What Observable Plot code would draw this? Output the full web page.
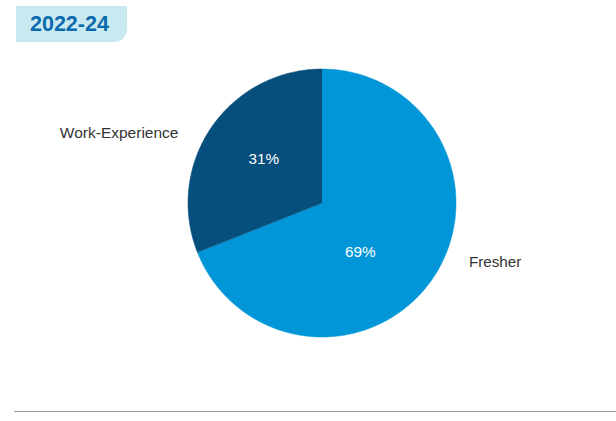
<!DOCTYPE html>
<html>
<head>
<meta charset="utf-8">
<script src="https://cdn.jsdelivr.net/npm/d3@7"></script>
<script src="https://cdn.jsdelivr.net/npm/@observablehq/plot@0.6"></script>
<style>
  html, body { margin: 0; padding: 0; background: #fff; }
  #wrap { position: relative; width: 616px; height: 421px; overflow: hidden; font-family: "Liberation Sans", Arial, sans-serif; }
  #title { position: absolute; left: 16px; top: 6px; width: 97px; height: 36px; padding-left: 14px;
           background: #c9e9f1; border-bottom-right-radius: 13px; color: #0b69ad;
           font-weight: bold; font-size: 21.5px; line-height: 36px; }
  #rule { position: absolute; left: 14px; right: 0; top: 411px; height: 0; border-top: 1.5px solid #9a9a9a; }
  #chart { position: absolute; left: 0; top: 0; }
</style>
</head>
<body>
<div id="wrap">
  <div id="chart"></div>
  <div id="title">2022-24</div>
  <div id="rule"></div>
</div>
<script>
// ---- data ----
const categories = ["Fresher", "Work-Experience"];
const shares = [69, 31];
const sliceColors = ["#0096d7", "#064e7c"];

// ---- layout (pixels) ----
const W = 616, H = 421;
const cx = 321.5, cy = 202.5, R = 134;
// label placement: radius (in pie radii) and angle shift (deg) from slice mid-angle
const innerLayout = { "Fresher": { r: 0.464, shift: 17.9 }, "Work-Experience": { r: 0.542, shift: 2.7 } };
const outerLayout = { "Fresher": { r: 1.182, shift: -12.3 }, "Work-Experience": { r: 1.191, shift: -8.3 } };

const table = categories.map((c, i) => ({ name: c, value: shares[i], color: sliceColors[i] }));
const total = d3.sum(shares);
const arcs = d3.pie().sort(null).value(d => d.value).startAngle(0).endAngle(2 * Math.PI)(table);

// polygon outline of each slice (unit circle, y up)
const outline = [];
for (const a of arcs) {
  outline.push({ name: a.data.name, x: 0, y: 0 });
  const n = Math.max(2, Math.ceil((a.endAngle - a.startAngle) / (Math.PI / 360)));
  for (let k = 0; k <= n; k++) {
    const t = a.startAngle + (a.endAngle - a.startAngle) * k / n;
    outline.push({ name: a.data.name, x: Math.sin(t), y: Math.cos(t) });
  }
}

const rad = Math.PI / 180;
const inner = arcs.map(a => {
  const L = innerLayout[a.data.name];
  const t = (a.startAngle + a.endAngle) / 2 + L.shift * rad;
  return { name: a.data.name, text: Math.round(a.data.value / total * 100) + "%", x: L.r * Math.sin(t), y: L.r * Math.cos(t) };
});
const outer = arcs.map(a => {
  const L = outerLayout[a.data.name];
  const t = (a.startAngle + a.endAngle) / 2 + L.shift * rad;
  const x = L.r * Math.sin(t);
  return { name: a.data.name, x, y: L.r * Math.cos(t), anchor: x < 0 ? "end" : "start" };
});

const chart = Plot.plot({
  width: W, height: H,
  margin: 0,
  style: { fontFamily: "'Liberation Sans', Arial, sans-serif", background: "transparent" },
  x: { domain: [-cx / R, (W - cx) / R], axis: null },
  y: { domain: [(cy - H) / R, cy / R], axis: null },
  color: { domain: categories, range: sliceColors },
  marks: [
    Plot.line(outline, { x: "x", y: "y", z: "name", fill: "name", stroke: "name", strokeWidth: 0.5 }),
    Plot.text(inner, { x: "x", y: "y", text: "text", fill: "white", fontSize: 15.3 }),
    Plot.text(outer.filter(d => d.anchor === "end"), { x: "x", y: "y", text: "name", textAnchor: "end", fill: "#333", fontSize: 15.5 }),
    Plot.text(outer.filter(d => d.anchor === "start"), { x: "x", y: "y", text: "name", textAnchor: "start", fill: "#333", fontSize: 15.2 })
  ]
});
document.getElementById("chart").appendChild(chart);
</script>
</body>
</html>
